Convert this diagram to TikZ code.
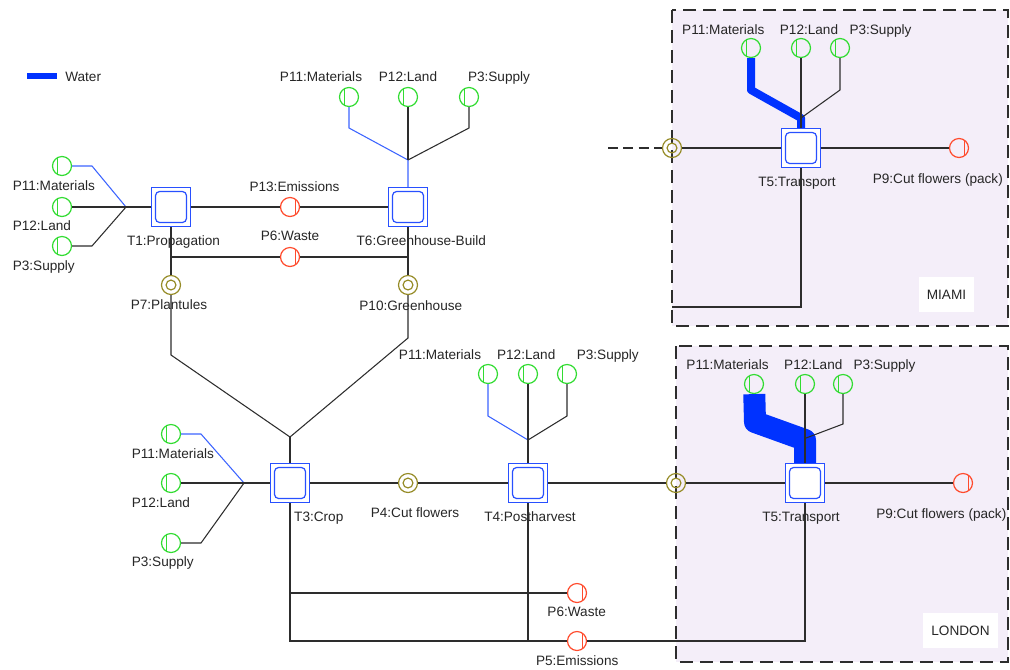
\documentclass[tikz,border=0pt]{standalone}
\usepackage{fontspec}
\setmainfont{Liberation Sans}
\definecolor{tblue}{RGB}{40,80,255}
\definecolor{pgreen}{RGB}{50,220,50}
\definecolor{pred}{RGB}{255,75,45}
\definecolor{polive}{RGB}{150,140,40}
\definecolor{water}{RGB}{0,50,255}
\definecolor{thinblue}{RGB}{60,100,255}
\definecolor{lav}{RGB}{244,238,249}
\definecolor{ink}{RGB}{45,45,45}
\begin{document}
\begin{tikzpicture}[x=0.75pt,y=-0.75pt,
  ln/.style={draw=ink, line width=0.8pt},
  bln/.style={draw=thinblue, line width=0.8pt},
  wat/.style={draw=water, line join=round},
  region/.style={fill=lav, draw=ink, line width=1.1pt, dash pattern=on 10pt off 5pt},
  trans/.style={draw=tblue, line width=1.1pt, fill=white, minimum size=29.25pt, inner sep=0pt,
    path picture={\draw[tblue, line width=0.9pt, rounded corners=3pt]
      ([shift={(-11.6pt,-11.6pt)}]path picture bounding box.center) rectangle
      ([shift={(11.6pt,11.6pt)}]path picture bounding box.center);}},
  inplace/.style={circle, draw=pgreen, line width=0.9pt, minimum size=14.25pt, inner sep=0pt,
    path picture={\draw[pgreen, line width=1pt]
      ([shift={(-3.6pt,-6.3pt)}]path picture bounding box.center) --
      ([shift={(-3.6pt,6.3pt)}]path picture bounding box.center);}},
  outplace/.style={circle, draw=pred, line width=0.9pt, minimum size=14.25pt, inner sep=0pt,
    path picture={\draw[pred, line width=1pt]
      ([shift={(4.2pt,-5.8pt)}]path picture bounding box.center) --
      ([shift={(4.2pt,5.8pt)}]path picture bounding box.center);}},
  midplace/.style={circle, draw=polive, line width=0.9pt, minimum size=14.25pt, inner sep=0pt,
    path picture={\draw[polive, line width=0.9pt]
      (path picture bounding box.center) circle[radius=3.7pt];}},
  lbl/.style={font=\fontsize{10.2}{12}\selectfont, inner sep=0pt, text=black!85, anchor=base},
  lblw/.style={lbl, anchor=base west},
  tag/.style={font=\fontsize{10.2}{12}\selectfont, fill=white, inner sep=0pt, text=black!85},
]
\useasboundingbox (0,0) rectangle (1010,669);

% regions
\draw[region] (672,10) rectangle (1008,326);
\draw[region] (676,346) rectangle (1008,662);
\node[tag, minimum width=41.25pt, minimum height=26.25pt] (miami) at (946.5,294.5) {MIAMI};
\node[tag, minimum width=56.25pt, minimum height=26.25pt] (london) at (960.5,630.5) {LONDON};

% legend
\coordinate (lg1) at (27,76);
\coordinate (lg2) at (57,76);
\draw[wat, line width=4.5pt] (lg1) -- (lg2);
\node[lblw] (lgW) at (65,81.7) {Water};

% transitions
\node[trans] (T1) at (171,207) {};
\node[trans] (T6) at (408,207) {};
\node[trans] (T3) at (290,483) {};
\node[trans] (T4) at (528,483) {};
\node[trans] (T5M) at (801,148) {};
\node[trans] (T5L) at (805,483) {};

% places
\node[inplace] (aP11) at (62,166) {};
\node[inplace] (aP12) at (62,207) {};
\node[inplace] (aP3) at (62,246) {};
\node[inplace] (bP11) at (349,97) {};
\node[inplace] (bP12) at (408,97) {};
\node[inplace] (bP3) at (469,97) {};
\node[inplace] (cP11) at (171,434) {};
\node[inplace] (cP12) at (171,483) {};
\node[inplace] (cP3) at (171,543) {};
\node[inplace] (dP11) at (488,374) {};
\node[inplace] (dP12) at (528,374) {};
\node[inplace] (dP3) at (567,374) {};
\node[inplace] (eP11) at (754,384) {};
\node[inplace] (eP12) at (805,384) {};
\node[inplace] (eP3) at (843,384) {};
\node[inplace] (fP11) at (751,48) {};
\node[inplace] (fP12) at (801,48) {};
\node[inplace] (fP3) at (840,48) {};
\node[outplace] (P13) at (290,207) {};
\node[outplace] (P6a) at (290,257) {};
\node[outplace] (P6b) at (577,593) {};
\node[outplace] (P5) at (577,641) {};
\node[outplace] (P9M) at (959,148) {};
\node[outplace] (P9L) at (963,483) {};
\node[midplace] (P7) at (171,285) {};
\node[midplace] (P10) at (408,285) {};
\node[midplace] (P4) at (408,483) {};
\node[midplace] (pM) at (672,148) {};
\node[midplace] (pL) at (676,483) {};

% labels
\node[lblw] (laP11) at (12.5,190.7) {P11:Materials};
\node[lblw] (laP12) at (12.5,230.7) {P12:Land};
\node[lblw] (laP3) at (12.5,270) {P3:Supply};
\node[lbl] (lT1) at (173.5,245.3) {T1:Propagation};
\node[lbl] (lP13) at (294.5,191) {P13:Emissions};
\node[lbl] (lP6a) at (290,240) {P6:Waste};
\node[lbl] (lT6) at (421.3,245.3) {T6:Greenhouse-Build};
\node[lbl] (lP7) at (169,309) {P7:Plantules};
\node[lbl] (lP10) at (410.8,310) {P10:Greenhouse};
\node[lbl] (lbP11) at (321,81.7) {P11:Materials};
\node[lbl] (lbP12) at (408,81.7) {P12:Land};
\node[lbl] (lbP3) at (499,81.7) {P3:Supply};
\node[lblw] (lcP11) at (131.5,458.3) {P11:Materials};
\node[lblw] (lcP12) at (131.5,507.3) {P12:Land};
\node[lblw] (lcP3) at (131.5,566.7) {P3:Supply};
\node[lbl] (lT3) at (318.8,521.7) {T3:Crop};
\node[lbl] (lP4) at (415,517.7) {P4:Cut flowers};
\node[lbl] (lT4) at (530,521.7) {T4:Postharvest};
\node[lbl] (ldP11) at (440,359.3) {P11:Materials};
\node[lbl] (ldP12) at (526.2,359.3) {P12:Land};
\node[lbl] (ldP3) at (607.8,359.3) {P3:Supply};
\node[lbl] (lP6b) at (576.7,616) {P6:Waste};
\node[lbl] (lP5) at (577.2,665.3) {P5:Emissions};
\node[lbl] (lfP11) at (723.3,34) {P11:Materials};
\node[lbl] (lfP12) at (809,34) {P12:Land};
\node[lbl] (lfP3) at (880.5,34) {P3:Supply};
\node[lbl] (lT5M) at (797,186.7) {T5:Transport};
\node[lbl] (lP9M) at (937.8,183.3) {P9:Cut flowers (pack)};
\node[lbl] (leP11) at (727.5,369.3) {P11:Materials};
\node[lbl] (leP12) at (813.3,369.3) {P12:Land};
\node[lbl] (leP3) at (884.5,369.3) {P3:Supply};
\node[lbl] (lT5L) at (801,521.7) {T5:Transport};
\node[lbl] (lP9L) at (941.3,518.3) {P9:Cut flowers (pack)};

% junction coordinates
\coordinate (jA) at (126,207);
\coordinate (jB) at (408,160);
\coordinate (jC) at (244,483);
\coordinate (jD) at (528,440);
\coordinate (jE) at (806,438);
\coordinate (jF) at (801,118);
\coordinate (j6a) at (171,257);
\coordinate (j6b) at (408,257);
\coordinate (jP7) at (171,355);
\coordinate (jP10) at (408,338);
\coordinate (jV) at (290,437);
\coordinate (jT3a) at (290,593);
\coordinate (jT3b) at (290,641);
\coordinate (jT4b) at (528,641);
\coordinate (jL5) at (805,641);
\coordinate (jM1) at (801,307);
\coordinate (jM2) at (672,307);
\coordinate (ext) at (608,148);

% thick water flows
\draw[wat, line width=6pt] (fP11) -- (751,90) -- (jF) -- (T5M);
\draw[wat, line width=16.5pt] (eP11) -- (755,422) -- (805,440) -- (T5L);

% T1 inputs
\draw[bln] (aP11) -- (92,166) -- (jA);
\draw[ln] (aP12) -- (jA) -- (T1);
\draw[ln] (aP3) -- (92,246) -- (jA);
% T6 inputs
\draw[bln] (bP11) -- (349,128) -- (jB) -- (T6);
\draw[ln] (bP12) -- (jB);
\draw[ln] (bP3) -- (469,128) -- (jB);
% T1 / T6 outputs
\draw[ln] (T1) -- (P13) -- (T6);
\draw[ln] (T1) -- (P7);
\draw[ln] (T6) -- (P10);
\draw[ln] (j6a) -- (P6a) -- (j6b);
\draw[ln] (P7) -- (jP7) -- (jV);
\draw[ln] (P10) -- (jP10) -- (jV);
\draw[ln] (jV) -- (T3);
% T3 inputs
\draw[bln] (cP11) -- (201,434) -- (jC);
\draw[ln] (cP12) -- (jC) -- (T3);
\draw[ln] (cP3) -- (201,543) -- (jC);
% main chain
\draw[ln] (T3) -- (P4) -- (T4);
\draw[ln] (T4) -- (pL) -- (T5L) -- (P9L);
% T4 inputs
\draw[bln] (dP11) -- (488,416) -- (jD);
\draw[ln] (dP12) -- (jD) -- (T4);
\draw[ln] (dP3) -- (567,416) -- (jD);
% waste / emissions
\draw[ln] (T3) -- (jT3b) -- (P5);
\draw[ln] (jT3a) -- (P6b);
\draw[ln] (T4) -- (jT4b);
\draw[ln] (P5) -- (jL5) -- (T5L);
% London inputs
\draw[ln] (eP12) -- (T5L);
\draw[ln] (eP3) -- (843,424) -- (jE);
% Miami
\draw[ln, dash pattern=on 7.5pt off 4pt] (ext) -- (pM);
\draw[ln] (pM) -- (T5M) -- (P9M);
\draw[ln] (fP12) -- (T5M);
\draw[ln] (fP3) -- (840,90) -- (jF);
\draw[ln] (T5M) -- (jM1) -- (jM2);
\end{tikzpicture}
\end{document}
